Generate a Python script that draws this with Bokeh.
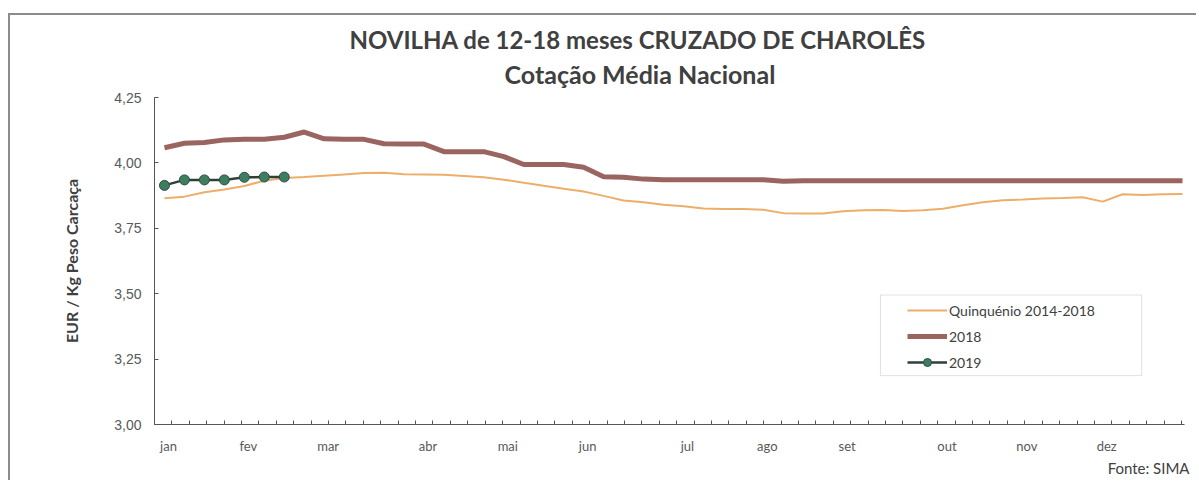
from bokeh.plotting import figure
from bokeh.models import (Range1d, FixedTicker, CustomJSTickFormatter, Title, Legend,
                          LegendItem, BoxAnnotation)
from bokeh.embed import file_html
from bokeh.resources import INLINE
import numpy as np

# ---------------- data ----------------
weeks = list(range(1, 53))
quinquenio = [3.865, 3.871, 3.888, 3.898, 3.912, 3.932, 3.942, 3.946, 3.951, 3.956,
              3.961, 3.962, 3.957, 3.956, 3.955, 3.950, 3.945, 3.936, 3.924, 3.913,
              3.901, 3.891, 3.874, 3.856, 3.850, 3.840, 3.834, 3.826, 3.824, 3.824,
              3.821, 3.808, 3.807, 3.807, 3.815, 3.819, 3.820, 3.816, 3.819, 3.825,
              3.838, 3.850, 3.857, 3.860, 3.864, 3.866, 3.869, 3.852, 3.880, 3.877,
              3.880, 3.881]
y2018 = [4.058, 4.075, 4.078, 4.088, 4.090, 4.090, 4.098, 4.118, 4.092, 4.090,
         4.090, 4.073, 4.072, 4.072, 4.043, 4.043, 4.043, 4.024, 3.994, 3.994,
         3.994, 3.983, 3.947, 3.945, 3.938, 3.936, 3.936, 3.936, 3.936, 3.936,
         3.936, 3.930, 3.932, 3.932, 3.932, 3.932, 3.932, 3.932, 3.932, 3.932,
         3.932, 3.932, 3.932, 3.932, 3.932, 3.932, 3.932, 3.932, 3.932, 3.932,
         3.932, 3.932]
weeks2019 = [1, 2, 3, 4, 5, 6, 7]
y2019 = [3.914, 3.935, 3.935, 3.935, 3.945, 3.946, 3.946]

month_labels = ["jan", "fev", "mar", "abr", "mai", "jun", "jul", "ago", "set", "out", "nov", "dez"]
month_weeks = [1, 5, 9, 14, 18, 22, 27, 31, 35, 40, 44, 48]
y_ticks = [3.00, 3.25, 3.50, 3.75, 4.00, 4.25]

# ---------------- style ----------------
TXT = "#404040"
GRAY = "#595959"
FONT = "Lato"
label_shift = 0.2
month_pos = [w + label_shift for w in month_weeks]
minor_marks = list(np.arange(0.5, 52.15, 0.872))

p = figure(width=1188, height=467, x_range=Range1d(0.5, 52.1), y_range=Range1d(3.0, 4.25),
           output_backend="svg", toolbar_location=None, title=None,
           min_border_left=144, min_border_right=14, min_border_top=82, min_border_bottom=58)
p.margin = (13, 0, 0, 8)
p.styles = {"border-left": "2px solid #8c8c8c", "border-top": "2px solid #8c8c8c"}
p.outline_line_color = None
p.xgrid.visible = False
p.ygrid.visible = False
p.background_fill_color = "white"
p.border_fill_color = "white"

# y axis
p.yaxis.ticker = FixedTicker(ticks=y_ticks)
p.yaxis.formatter = CustomJSTickFormatter(code="return tick.toFixed(2).replace('.', ',');")
p.yaxis.major_tick_in = 4
p.yaxis.major_tick_out = 0
p.yaxis.minor_tick_in = 0
p.yaxis.minor_tick_out = 0
p.yaxis.axis_line_color = "#555555"
p.yaxis.major_tick_line_color = "#555555"
p.yaxis.major_label_text_font = "Liberation Sans"
p.yaxis.major_label_text_font_size = "14px"
p.yaxis.major_label_text_color = GRAY
p.yaxis.major_label_standoff = 13
p.yaxis.axis_label = "EUR / Kg Peso Carcaça"
p.yaxis.axis_label_text_font = FONT
p.yaxis.axis_label_text_font_size = "16px"
p.yaxis.axis_label_text_font_style = "bold"
p.yaxis.axis_label_text_color = TXT
p.yaxis.axis_label_standoff = 30

# x axis
p.xaxis.ticker = FixedTicker(ticks=month_pos, minor_ticks=minor_marks)
p.xaxis.formatter = CustomJSTickFormatter(
    args=dict(pos=month_pos, labels=month_labels),
    code="""
    for (let i = 0; i < pos.length; i++) {
        if (Math.abs(pos[i] - tick) < 1e-6) { return labels[i]; }
    }
    return '';
    """)
p.xaxis.major_tick_in = 0
p.xaxis.major_tick_out = 0
p.xaxis.minor_tick_in = 4
p.xaxis.minor_tick_out = 0
p.xaxis.axis_line_color = "#555555"
p.xaxis.minor_tick_line_color = "#555555"
p.xaxis.major_label_text_font = FONT
p.xaxis.major_label_text_font_size = "13px"
p.xaxis.major_label_text_color = GRAY
p.xaxis.major_label_standoff = 13

# series
r_q = p.line(weeks, quinquenio, line_color="#EDAE6A", line_width=2)
r_18 = p.line(weeks, y2018, line_color="#9A6460", line_width=5)
r_19l = p.line(weeks2019, y2019, line_color="#2F3F3A", line_width=2.5)
r_19p = p.scatter(weeks2019, y2019, size=10, fill_color="#3E7D5E", line_color="#2F4F44", line_width=1)

# legend box
box = BoxAnnotation(left=36.87, right=49.95, bottom=3.187, top=3.495,
                    fill_color="white", fill_alpha=1.0, line_color="#9a9a9a", line_width=1)
p.add_layout(box)

legend = Legend(items=[LegendItem(label="Quinquénio 2014-2018", renderers=[r_q]),
                       LegendItem(label="2018", renderers=[r_18]),
                       LegendItem(label="2019", renderers=[r_19l, r_19p])],
                location=(753, 52), padding=0, spacing=6, glyph_width=40, glyph_height=20,
                label_height=20, label_standoff=2, border_line_alpha=0,
                background_fill_alpha=0, label_text_font=FONT, label_text_font_size="14px",
                label_text_color=TXT)
p.add_layout(legend)

# titles
sub = Title(text="Cotação Média Nacional", align="left", offset=350, standoff=17,
            text_font=FONT, text_font_size="25px", text_font_style="bold", text_color=TXT)
main = Title(text="NOVILHA de 12-18 meses CRUZADO DE CHAROLÊS", align="left", offset=195,
             standoff=-10, text_font=FONT, text_font_size="24px", text_font_style="bold",
             text_color=TXT)
p.add_layout(sub, "above")
p.add_layout(main, "above")

src = Title(text="Fonte: SIMA", align="right", offset=-5, standoff=0, text_font=FONT,
            text_font_size="15px", text_font_style="normal", text_color=TXT)
p.add_layout(src, "below")

open("out.html", "w").write(file_html(p, INLINE))
